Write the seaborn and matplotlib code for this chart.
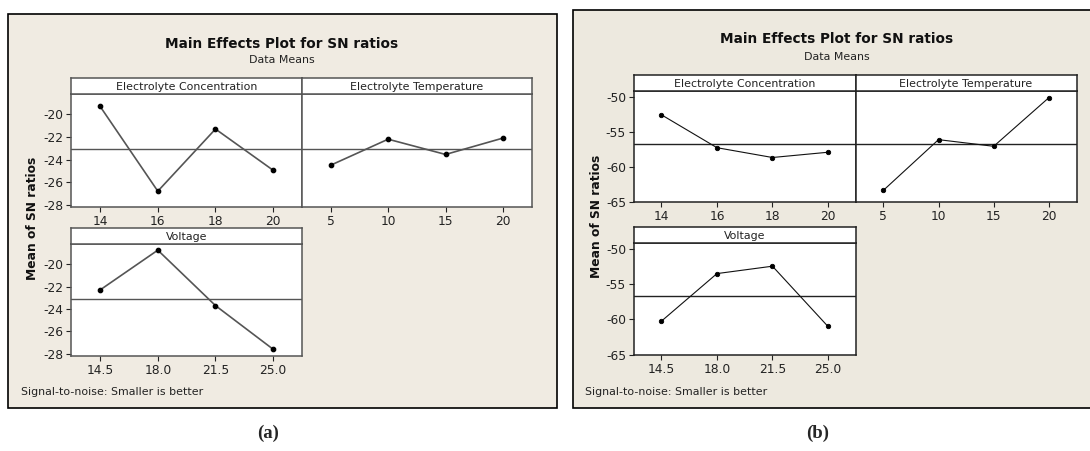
import numpy as np
import matplotlib
matplotlib.use("Agg")
import matplotlib.pyplot as plt
import seaborn as sns
from matplotlib.patches import Rectangle

# factor levels
conc_levels = ["14", "16", "18", "20"]
temp_levels = ["5", "10", "15", "20"]
volt_levels = ["14.5", "18.0", "21.5", "25.0"]

# mean SN ratios, (a) and (b)
a_conc = [-19.3, -26.8, -21.3, -24.95]
a_temp = [-24.5, -22.2, -23.55, -22.1]
a_volt = [-22.3, -18.75, -23.7, -27.6]
a_yticks = [-20, -22, -24, -26, -28]

b_conc = [-52.6, -57.3, -58.7, -57.95]
b_temp = [-63.4, -56.15, -57.1, -50.15]
b_volt = [-60.25, -53.5, -52.45, -61.0]
b_yticks = [-50, -55, -60, -65]

W, H = 1090, 451
sns.set_style("ticks")
plt.rcParams["font.family"] = ["DejaVu Sans"]
plt.rcParams["axes.unicode_minus"] = False

fig = plt.figure(figsize=(W / 100, H / 100), dpi=100)


def box(x0, y0, x1, y1):
    return [x0 / W, 1 - y1 / H, (x1 - x0) / W, (y1 - y0) / H]


def frame(x0, y0, x1, y1, face):
    fig.patches.append(Rectangle((x0 / W, 1 - y1 / H), (x1 - x0) / W, (y1 - y0) / H,
                                 transform=fig.transFigure, facecolor=face,
                                 edgecolor="black", lw=1.2, zorder=-10))


def strip(x0, y0, x1, y1, label, edge):
    s = fig.add_axes(box(x0, y0, x1, y1))
    s.set_facecolor("white")
    s.set_xticks([])
    s.set_yticks([])
    for sp in s.spines.values():
        sp.set_color(edge)
        sp.set_linewidth(1.1)
    s.text(0.5, 0.45, label, ha="center", va="center", fontsize=7.9, color="#222")


def effect(pos, levels, vals, grand, ylim, yticks, left, line_col, lw, edge):
    ax = fig.add_axes(box(*pos))
    ax.set_facecolor("white")
    sns.pointplot(x=levels, y=vals, errorbar=None, color=line_col, markers="o",
                  markersize=3.2, linewidth=lw, ax=ax)
    for ln in ax.lines:
        ln.set_markerfacecolor("black")
        ln.set_markeredgecolor("black")
    ax.axhline(grand, color=edge, lw=1.0, zorder=1)
    ax.set_xlim(-0.5, len(levels) - 0.5)
    ax.set_ylim(*ylim)
    ax.set_xlabel("")
    ax.set_ylabel("")
    ax.set_yticks(yticks)
    ax.tick_params(axis="both", length=3.5, width=0.8, pad=2, labelsize=8.8,
                   colors="#222", direction="out")
    if not left:
        ax.tick_params(axis="y", left=False, labelleft=False)
    for sp in ax.spines.values():
        sp.set_color(edge)
        sp.set_linewidth(1.1)
    return ax


# ---- panel (a) ----
frame(8, 14, 557, 408, "#f0ebe2")
ga = np.mean(a_conc + a_temp + a_volt)
ylim_a = (-28.2, -18.2)
effect((71.3, 94, 302, 207), conc_levels, a_conc, ga, ylim_a, a_yticks, True, "#555555", 1.2, "#555555")
effect((302, 94, 531.7, 207), temp_levels, a_temp, ga, ylim_a, a_yticks, False, "#555555", 1.2, "#555555")
effect((71.3, 244, 302, 356), volt_levels, a_volt, ga, ylim_a, a_yticks, True, "#555555", 1.2, "#555555")
strip(71.3, 78, 302, 94, "Electrolyte Concentration", "#555555")
strip(302, 78, 531.7, 94, "Electrolyte Temperature", "#555555")
strip(71.3, 228.3, 302, 244, "Voltage", "#555555")
fig.text(281.8 / W, 1 - 44 / H, "Main Effects Plot for SN ratios", ha="center", va="center",
         fontsize=9.8, fontweight="bold", color="#111")
fig.text(281.8 / W, 1 - 60 / H, "Data Means", ha="center", va="center", fontsize=7.9, color="#222")
fig.text(33 / W, 1 - 218 / H, "Mean of SN ratios", ha="center", va="center", rotation=90,
         fontsize=8.8, fontweight="bold", color="#111")
fig.text(20.7 / W, 1 - 392 / H, "Signal-to-noise: Smaller is better", ha="left", va="center",
         fontsize=7.9, color="#222")

# ---- panel (b) ----
frame(572.8, 10, 1100, 408, "#ede9df")
gb = np.mean(b_conc + b_temp + b_volt)
ylim_b = (-65.1, -49.2)
effect((633.7, 91, 855.7, 202.3), conc_levels, b_conc, gb, ylim_b, b_yticks, True, "#111111", 0.8, "#222222")
effect((855.7, 91, 1076.5, 202.3), temp_levels, b_temp, gb, ylim_b, b_yticks, False, "#111111", 0.8, "#222222")
effect((633.7, 243.3, 855.7, 355.3), volt_levels, b_volt, gb, ylim_b, b_yticks, True, "#111111", 0.8, "#222222")
strip(633.7, 75, 855.7, 91, "Electrolyte Concentration", "#222222")
strip(855.7, 75, 1076.5, 91, "Electrolyte Temperature", "#222222")
strip(633.7, 226.7, 855.7, 243.3, "Voltage", "#222222")
fig.text(836.6 / W, 1 - 39.3 / H, "Main Effects Plot for SN ratios", ha="center", va="center",
         fontsize=9.8, fontweight="bold", color="#111")
fig.text(836.6 / W, 1 - 56.7 / H, "Data Means", ha="center", va="center", fontsize=7.9, color="#222")
fig.text(596 / W, 1 - 216.7 / H, "Mean of SN ratios", ha="center", va="center", rotation=90,
         fontsize=8.8, fontweight="bold", color="#111")
fig.text(585 / W, 1 - 392.3 / H, "Signal-to-noise: Smaller is better", ha="left", va="center",
         fontsize=7.9, color="#222")

# captions
fig.text(268 / W, 1 - 433 / H, "(a)", ha="center", va="center", fontsize=13.5,
         fontweight="bold", family="Liberation Serif")
fig.text(818 / W, 1 - 433 / H, "(b)", ha="center", va="center", fontsize=13.5,
         fontweight="bold", family="Liberation Serif")

fig.savefig("out.png", dpi=100, facecolor="white")
